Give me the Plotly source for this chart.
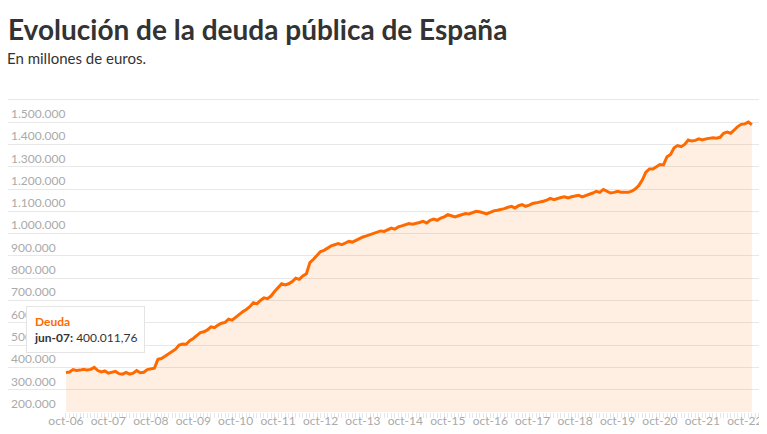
import plotly.graph_objects as go

d2006 = [377, 379, 390]
d2007 = [386, 388, 392, 388, 391, 400.01176, 386, 380, 384, 374, 378, 382]
d2008 = [372, 370, 378, 370, 374, 386, 376, 378, 390, 394, 396, 436]
d2009 = [440, 450, 462, 472, 482, 500, 505, 504, 520, 530, 545, 556]
d2010 = [560, 568, 582, 578, 590, 598, 602, 616, 612, 625, 640, 650]
d2011 = [660, 672, 690, 685, 700, 712, 708, 720, 740, 760, 775, 770]
d2012 = [775, 785, 800, 795, 810, 820, 870, 885, 905, 920, 925, 935]
d2013 = [945, 950, 955, 950, 958, 965, 962, 970, 975, 985, 990, 995]
d2014 = [1000, 1005, 1012, 1010, 1018, 1025, 1020, 1030, 1035, 1040, 1045, 1042]
d2015 = [1045, 1050, 1055, 1048, 1060, 1065, 1060, 1070, 1075, 1085, 1080, 1075]
d2016 = [1080, 1085, 1090, 1088, 1095, 1100, 1098, 1092, 1088, 1095, 1102, 1105]
d2017 = [1108, 1112, 1118, 1122, 1115, 1125, 1130, 1122, 1128, 1135, 1138, 1140]
d2018 = [1145, 1150, 1158, 1152, 1158, 1162, 1165, 1160, 1165, 1170, 1172, 1165]
d2019 = [1170, 1175, 1182, 1190, 1185, 1198, 1190, 1182, 1185, 1190, 1186, 1185]
d2020 = [1185, 1190, 1200, 1215, 1240, 1275, 1290, 1290, 1300, 1310, 1308, 1345]
d2021 = [1355, 1385, 1395, 1390, 1400, 1420, 1415, 1418, 1425, 1420, 1425, 1427]
d2022 = [1430, 1428, 1432, 1450, 1455, 1450, 1465, 1480, 1490, 1492, 1500, 1488]

years = [d2006, d2007, d2008, d2009, d2010, d2011, d2012, d2013, d2014, d2015,
         d2016, d2017, d2018, d2019, d2020, d2021, d2022]
values = [v * 1000 for yr in years for v in yr]
tick_labels = ["oct-%02d" % (y % 100) for y in range(2006, 2023)]
y_ticks = list(range(200000, 1600001, 100000))

x = list(range(len(values)))
fig = go.Figure(go.Scatter(
    x=x, y=values, mode="lines", fill="tozeroy",
    line=dict(color="#ff6a00", width=3), fillcolor="rgba(255,106,0,0.11)",
    hoverinfo="skip"))

fig.update_layout(
    width=767, height=434, margin=dict(l=0, r=15, t=78, b=30),
    paper_bgcolor="white", plot_bgcolor="white", separators=",.",
    font=dict(family="Lato", color="#333"), showlegend=False,
    title=dict(text="<b>Evolución de la deuda pública de España</b>", x=0.0, xanchor="left",
               xref="paper", y=0.95, yanchor="middle", font=dict(size=28, color="#333")),
    xaxis=dict(range=[-16.4, 196.3], tickvals=list(range(0, len(values), 12)),
               ticktext=tick_labels, showgrid=False, zeroline=False, automargin=False,
               tickfont=dict(size=12, color="#aaa"), ticks="", showline=False,
               minor=dict(dtick=1, tick0=0, ticks="outside", ticklen=5, tickcolor="#e6e6e6")),
    yaxis=dict(range=[200000, 1662000], tickvals=y_ticks, tickformat=",d", automargin=False,
               ticklabelposition="inside top", gridcolor="#e8e8e8", zeroline=False,
               tickfont=dict(size=12, color="#aaa")),
)
fig.add_annotation(xref="paper", yref="paper", x=0.0, y=1.085, xanchor="left", yanchor="middle",
                   xshift=-3, text="En millones de euros.", showarrow=False,
                   font=dict(size=15, color="#333"))
fig.add_annotation(x=5.5, y=values[8], xref="x", yref="y",
                   text="<b><span style='color:#ff6a00'>Deuda</span></b><br><b>jun-07:</b> 400.011,76",
                   showarrow=False, align="left", xanchor="center", yanchor="bottom", yshift=14,
                   bgcolor="white", bordercolor="#e4e4e4", borderwidth=1, borderpad=7,
                   font=dict(size=12, color="#333"))
fig.write_html("out.html")
